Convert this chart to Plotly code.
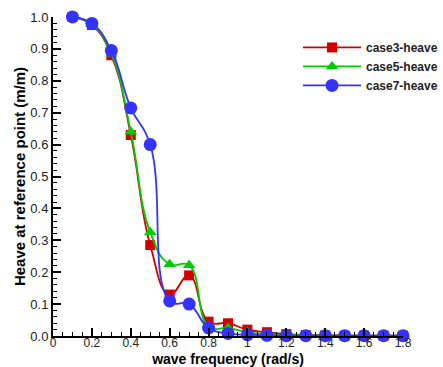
import plotly.graph_objects as go

freq = [0.1, 0.2, 0.3, 0.4, 0.5, 0.6, 0.7, 0.8, 0.9, 1.0, 1.1, 1.2, 1.3, 1.4, 1.5, 1.6, 1.7, 1.8]
case3 = [1.0, 0.975, 0.88, 0.63, 0.285, 0.13, 0.19, 0.045, 0.04, 0.02, 0.012, 0.006, 0.003, 0.002, 0.001, 0.001, 0.001, 0.001]
case5 = [1.0, 0.977, 0.885, 0.64, 0.325, 0.225, 0.222, 0.03, 0.025, 0.012, 0.006, 0.003, 0.002, 0.001, 0.001, 0.001, 0.001, 0.001]
case7 = [1.0, 0.98, 0.895, 0.715, 0.60, 0.11, 0.10, 0.025, 0.008, 0.004, 0.002, 0.001, 0.001, 0.001, 0.001, 0.001, 0.001, 0.001]

names = ["case3-heave", "case5-heave", "case7-heave"]
colors = ["#d40000", "#00cc00", "#3333ff"]
symbols = ["square", "triangle-up", "circle"]
sizes = [10, 11, 13]

fig = go.Figure()
for ys, nm, c, s, sz in zip([case3, case5, case7], names, colors, symbols, sizes):
    fig.add_trace(go.Scatter(
        x=freq, y=ys, name="<b>" + nm + "</b>", mode="lines+markers",
        line=dict(color=c, width=1.8, shape="spline", smoothing=1.3),
        marker=dict(symbol=s, size=sz, color=c, line=dict(width=0)),
        cliponaxis=False,
    ))

axis_common = dict(
    showline=True, linecolor="black", linewidth=2,
    ticks="inside", ticklen=8, tickwidth=1.5, tickcolor="black",
    showgrid=False, zeroline=False, mirror=False, automargin=False,
    tickfont=dict(family="Liberation Sans, Arial", size=13, color="#222"),
)

fig.update_layout(
    width=443, height=367,
    margin=dict(l=53, r=40, t=17, b=31, autoexpand=False),
    plot_bgcolor="white", paper_bgcolor="white",
    xaxis=dict(range=[0, 1.8], dtick=0.2, tick0=0, ticklabelstandoff=-5,
               minor=dict(dtick=0.05, ticks="inside", ticklen=4, tickcolor="black", tickwidth=1),
               title=dict(text="<b>wave frequency (rad/s)</b>", standoff=7,
                          font=dict(family="Liberation Sans, Arial", size=14, color="black")),
               **axis_common),
    yaxis=dict(range=[0, 1.0], dtick=0.1, tick0=0, tickformat=".1f",
               minor=dict(dtick=0.02, ticks="inside", ticklen=4, tickcolor="black", tickwidth=1),
               title=dict(text="<b>Heave at reference point (m/m)</b>", standoff=1,
                          font=dict(family="Liberation Sans, Arial", size=15, color="black")),
               **axis_common),
    legend=dict(x=0.70, y=0.95, xanchor="left", yanchor="top",
                bgcolor="rgba(0,0,0,0)", tracegroupgap=0,
                font=dict(family="Liberation Sans, Arial", size=12, color="#222"),
                itemwidth=58),
    showlegend=True,
)

fig.update_xaxes(tickfont=dict(size=12))

fig.write_html("out.html")
